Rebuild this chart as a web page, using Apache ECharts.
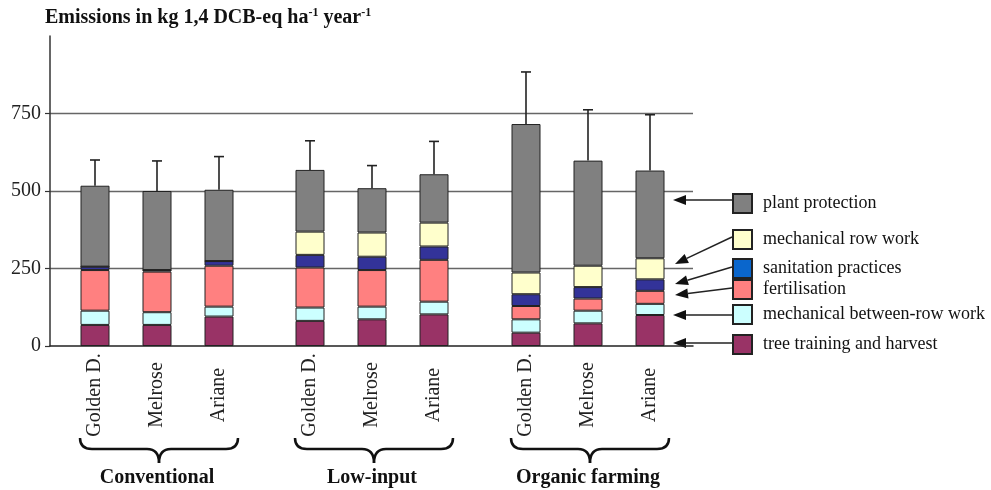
<!DOCTYPE html>
<html>
<head>
<meta charset="utf-8">
<script src="https://cdn.jsdelivr.net/npm/echarts@6/dist/echarts.min.js"></script>
<style>
  html, body { margin: 0; padding: 0; background: #fff; }
  #chart { width: 991px; height: 490px; }
</style>
</head>
<body>
<div id="chart"></div>
<script>
// ---- data ----
const systems = ['Conventional', 'Low-input', 'Organic farming'];
const varieties = ['Golden D.', 'Melrose', 'Ariane'];
const yTicks = [0, 250, 500, 750];

// per bar: Conv(GD, Mel, Ari), Low(GD, Mel, Ari), Org(GD, Mel, Ari)
const treeTraining   = [68, 68, 95, 81, 86, 102, 43, 73, 100];
const betweenRowWork = [46, 41, 32, 43, 41, 41, 43, 41, 36];
const fertilisation  = [131, 131, 132, 129, 118, 135, 43, 39, 42];
const sanitation     = [11, 5, 15, 41, 43, 43, 38, 37, 37];
const rowWork        = [0, 0, 0, 75, 78, 77, 70, 69, 68];
const plantProtection= [261, 255, 230, 199, 143, 156, 479, 339, 283];
const errorTop       = [600, 597, 611, 662, 582, 660, 884, 762, 746];

const components = [
  { name: 'tree training and harvest',    values: treeTraining,    color: '#993366' },
  { name: 'mechanical between-row work',  values: betweenRowWork,  color: '#CCFFFF' },
  { name: 'fertilisation',                values: fertilisation,   color: '#FF8080' },
  { name: 'sanitation practices',         values: sanitation,      color: '#333399', legendColor: '#0A66CC' },
  { name: 'mechanical row work',          values: rowWork,         color: '#FFFFCC' },
  { name: 'plant protection',             values: plantProtection, color: '#808080' }
];

// ---- layout ----
const FONT = "'Liberation Serif', 'Times New Roman', serif";
const TOP = 36, BOTTOM = 144;
const groupLefts = [64, 279, 495];
const groupWidth = 186;

const chart = echarts.init(document.getElementById('chart'));

const grids = [{ left: 50, right: 298, top: TOP, bottom: BOTTOM, outerBoundsMode: 'none', containLabel: false }];
const xAxes = [{
  gridIndex: 0, type: 'value', min: 0, max: 1,
  axisLine: { show: true, lineStyle: { color: '#222', width: 1.5 } },
  axisTick: { show: false }, axisLabel: { show: false }, splitLine: { show: false }
}];
const yAxes = [{
  gridIndex: 0, type: 'value', min: 0, max: 1000, interval: 250,
  axisLine: { show: true, lineStyle: { color: '#333', width: 1.5 } },
  axisTick: { show: true, length: 5, lineStyle: { color: '#333', width: 1.2 } },
  axisLabel: { fontFamily: FONT, fontSize: 20, color: '#222', margin: 9, showMaxLabel: false,
               formatter: v => yTicks.includes(v) ? String(v) : '' },
  splitLine: { show: true, showMaxLine: false, showMinLine: false, lineStyle: { color: '#666', width: 1.3 } }
}];

const series = [];
systems.forEach((sys, g) => {
  grids.push({ left: groupLefts[g], width: groupWidth, top: TOP, bottom: BOTTOM,
               outerBoundsMode: 'none', containLabel: false });
  xAxes.push({
    gridIndex: g + 1, type: 'category', data: varieties,
    axisLine: { show: false }, axisTick: { show: false },
    axisLabel: { rotate: 90, align: 'center', fontFamily: FONT, fontSize: 20, color: '#222', margin: 49 },
    name: sys, nameLocation: 'middle', nameGap: 122,
    nameTextStyle: { fontFamily: FONT, fontSize: 20, fontWeight: 'bold', color: '#111' }
  });
  yAxes.push({ gridIndex: g + 1, type: 'value', min: 0, max: 1000, show: false });
  const idx = [g * 3, g * 3 + 1, g * 3 + 2];
  components.forEach(c => {
    series.push({
      type: 'bar', name: c.name, stack: 'grp' + g,
      xAxisIndex: g + 1, yAxisIndex: g + 1,
      barWidth: 29,
      itemStyle: { color: c.color, borderColor: '#222', borderWidth: 1 },
      data: idx.map(i => c.values[i])
    });
  });
  series.push({
    type: 'custom', name: 'err' + g, xAxisIndex: g + 1, yAxisIndex: g + 1, silent: true, z: 5,
    data: idx.map((i, k) => [k, components.reduce((s, c) => s + c.values[i], 0), errorTop[i]]),
    renderItem: (params, api) => {
      const b = api.coord([api.value(0), api.value(1)]);
      const t = api.coord([api.value(0), api.value(2)]);
      const st = { stroke: '#222', lineWidth: 1.6 };
      return { type: 'group', children: [
        { type: 'line', shape: { x1: b[0], y1: b[1], x2: t[0], y2: t[1] }, style: st },
        { type: 'line', shape: { x1: t[0] - 5, y1: t[1], x2: t[0] + 5, y2: t[1] }, style: st }
      ]};
    }
  });
});

// legend (one component per item to reproduce uneven spacing)
const legendOrder = ['plant protection', 'mechanical row work', 'sanitation practices',
                     'fertilisation', 'mechanical between-row work', 'tree training and harvest'];
const legendTops = [193, 229, 258, 279, 304, 334];
const legends = legendOrder.map((n, i) => {
  const c = components.find(cc => cc.name === n);
  const item = { name: n };
  if (c.legendColor) item.itemStyle = { color: c.legendColor };
  return {
    data: [item], left: 732, top: legendTops[i], padding: 0, orient: 'vertical',
    itemWidth: 19, itemHeight: 19, icon: 'rect', selectedMode: false,
    textStyle: { fontFamily: FONT, fontSize: 18, color: '#111', padding: [0, 0, 0, 6] }
  };
});

// arrows from legend boxes to the chart
const arrows = [
  [732, 200, 673, 200],
  [732, 237, 675, 264],
  [732, 267, 675, 284],
  [732, 288, 675, 295],
  [732, 315, 673, 315],
  [732, 343, 673, 343]
];
const graphic = [];
arrows.forEach(([x1, y1, x2, y2]) => {
  const dx = x2 - x1, dy = y2 - y1, L = Math.hypot(dx, dy);
  const ux = dx / L, uy = dy / L, px = -uy, py = ux;
  const hl = 13, hw = 5;
  const bx = x2 - ux * hl, by = y2 - uy * hl;
  graphic.push({ type: 'line', shape: { x1, y1, x2: bx, y2: by }, style: { stroke: '#222', lineWidth: 1.5 } });
  graphic.push({ type: 'polygon', shape: { points: [[x2, y2], [bx + px * hw, by + py * hw], [bx - px * hw, by - py * hw]] },
                 style: { fill: '#111' } });
});
// braces under each group
systems.forEach((s, g) => {
  const x0 = groupLefts[g] + 16, x1 = groupLefts[g] + groupWidth - 12, xc = (x0 + x1) / 2;
  const y0 = 438, ym = 449, yp = 463, r = 12;
  const st = { stroke: '#111', lineWidth: 2.5, fill: null };
  graphic.push({ type: 'bezierCurve', shape: { x1: x0, y1: y0, cpx1: x0, cpy1: ym, x2: x0 + r, y2: ym }, style: st });
  graphic.push({ type: 'line', shape: { x1: x0 + r, y1: ym, x2: xc - r, y2: ym }, style: st });
  graphic.push({ type: 'bezierCurve', shape: { x1: xc - r, y1: ym, cpx1: xc, cpy1: ym, x2: xc, y2: yp }, style: st });
  graphic.push({ type: 'bezierCurve', shape: { x1: xc, y1: yp, cpx1: xc, cpy1: ym, x2: xc + r, y2: ym }, style: st });
  graphic.push({ type: 'line', shape: { x1: xc + r, y1: ym, x2: x1 - r, y2: ym }, style: st });
  graphic.push({ type: 'bezierCurve', shape: { x1: x1 - r, y1: ym, cpx1: x1, cpy1: ym, x2: x1, y2: y0 }, style: st });
});

chart.setOption({
  animation: false,
  backgroundColor: '#fff',
  title: {
    text: '{a|Emissions in kg 1,4 DCB-eq ha}{s|-1}{a| year}{s|-1}',
    left: 45, top: 7, padding: 0,
    textStyle: { rich: {
      a: { fontFamily: FONT, fontSize: 20, fontWeight: 'bold', color: '#111' },
      s: { fontFamily: FONT, fontSize: 12, fontWeight: 'bold', color: '#111', padding: [0, 0, 10, 0] }
    } }
  },
  legend: legends,
  grid: grids,
  xAxis: xAxes,
  yAxis: yAxes,
  series,
  graphic
});
</script>
</body>
</html>
